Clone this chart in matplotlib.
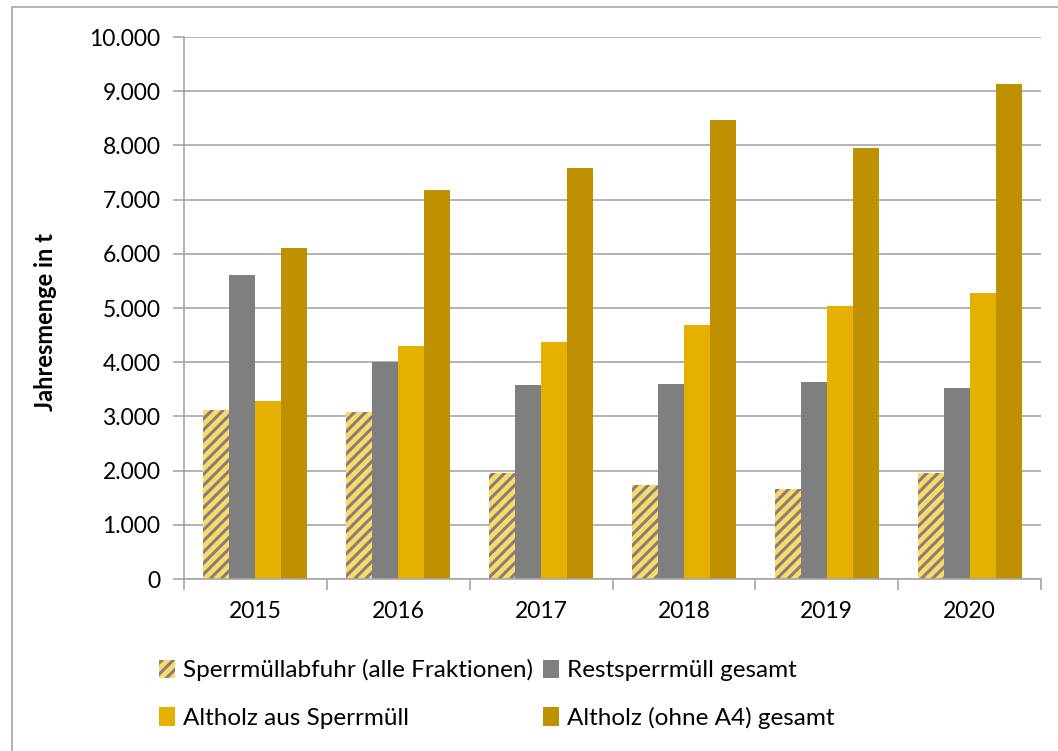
import numpy as np
import matplotlib.pyplot as plt
from matplotlib.patches import Rectangle
from matplotlib.ticker import FuncFormatter

plt.rcParams['font.family'] = ['Lato', 'DejaVu Sans']
plt.rcParams['hatch.linewidth'] = 2.2

jahre = ["2015", "2016", "2017", "2018", "2019", "2020"]

# Jahresmengen in t
sperrmuell = [3120, 3080, 1960, 1730, 1660, 1960]
restsperrmuell = [5610, 4000, 3580, 3600, 3630, 3530]
altholz_sperrmuell = [3280, 4300, 4370, 4690, 5040, 5280]
altholz_gesamt = [6110, 7180, 7590, 8470, 7950, 9130]

serien = [
    ("Sperrmüllabfuhr (alle Fraktionen)", sperrmuell, "#FFD966", "///"),
    ("Restsperrmüll gesamt", restsperrmuell, "#7F7F7F", None),
    ("Altholz aus Sperrmüll", altholz_sperrmuell, "#E6B000", None),
    ("Altholz (ohne A4) gesamt", altholz_gesamt, "#BF9000", None),
]

fig = plt.figure(figsize=(10.58, 7.51), dpi=100)
ax = fig.add_axes([0.1739, 0.229, 0.8101, 0.7217])

# Rahmen um das Diagramm
fig.patches.append(Rectangle((12 / 1058, -0.05), 1.1, 1 - 7 / 751 + 0.05,
                             transform=fig.transFigure, fill=False,
                             edgecolor="#A6A6A6", linewidth=1.2))

x = np.arange(len(jahre))
breite = 0.182
handles = []
for i, (name, werte, farbe, muster) in enumerate(serien):
    pos = x + (i - 1.5) * breite
    if muster:
        b = ax.bar(pos, werte, breite, color=farbe, edgecolor="#808080",
                   hatch=muster, linewidth=0, label=name)
    else:
        b = ax.bar(pos, werte, breite, color=farbe, linewidth=0, label=name)
    handles.append(b)

ax.set_xlim(-0.5, len(jahre) - 0.5)
ax.set_ylim(0, 10000)
ax.set_yticks(np.arange(0, 10001, 1000))
ax.yaxis.set_major_formatter(FuncFormatter(lambda v, p: f"{int(v):,}".replace(",", ".")))
ax.set_xticks(x)
ax.set_xticklabels(jahre)
ax.set_xticks(np.arange(-0.5, len(jahre), 1), minor=True)
ax.tick_params(axis="x", which="major", length=0, pad=16, labelsize=16.5)
ax.tick_params(axis="x", which="minor", length=8, color="#A6A6A6", width=1.2)
ax.tick_params(axis="y", length=8, color="#A6A6A6", width=1.2, pad=9, labelsize=16.5)

ax.grid(axis="y", color="#A6A6A6", linewidth=1.2)
ax.set_axisbelow(True)
for s in ["top", "right"]:
    ax.spines[s].set_visible(False)
for s in ["left", "bottom"]:
    ax.spines[s].set_color("#A6A6A6")
    ax.spines[s].set_linewidth(1.2)

ax.set_ylabel("Jahresmenge in t", fontsize=17, fontweight="bold")
ax.yaxis.set_label_coords(-0.148, 0.474)

# Legende zeilenweise: 1, 2 / 3, 4
reihenfolge = [0, 2, 1, 3]
fig.legend([handles[k] for k in reihenfolge], [serien[k][0] for k in reihenfolge],
           loc="upper left", bbox_to_anchor=(0.141, 0.135), ncol=2, frameon=False,
           fontsize=17.5, handlelength=0.65, handleheight=0.8, handletextpad=0.35,
           columnspacing=0.4, labelspacing=1.05, borderaxespad=0)

plt.savefig("out.png", dpi=100)
